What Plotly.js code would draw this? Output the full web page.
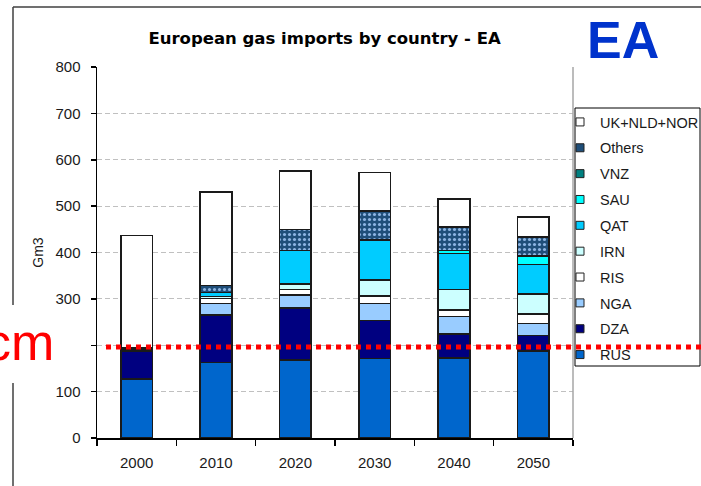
<!DOCTYPE html>
<html>
<head>
<meta charset="utf-8">
<script src="https://cdn.plot.ly/plotly-3.0.1.min.js"></script>
<style>
  html, body { margin: 0; padding: 0; background: #ffffff; }
  #chart { width: 701px; height: 486px; }
</style>
</head>
<body>
<div id="chart"></div>
<script>
// ---- Data (Gm3) ----
const categories = ['2000', '2010', '2020', '2030', '2040', '2050'];
const RUS    = [127, 163, 168, 171, 173, 188];
const DZA    = [60, 102, 112, 82, 51, 33];
const NGA    = [3, 25, 28, 37, 38, 26];
const RIS    = [0, 11, 12, 16, 14, 20];
const IRN    = [0, 4, 12, 35, 44, 44];
const QAT    = [0, 9, 72, 86, 78, 63];
const SAU    = [0, 0, 0, 0, 6, 18];
const VNZ    = [0, 0, 0, 0, 0, 0];
const Others = [4, 15, 46, 62, 51, 41];
const UKNLDNOR = [243, 201, 126, 84, 60, 44];
const seriesNames = ['RUS', 'DZA', 'NGA', 'RIS', 'IRN', 'QAT', 'SAU', 'VNZ', 'Others', 'UK+NLD+NOR'];
const seriesValues = [RUS, DZA, NGA, RIS, IRN, QAT, SAU, VNZ, Others, UKNLDNOR];
const refLine = 196;
const yTickVals = [0, 100, 200, 300, 400, 500, 600, 700, 800];
const yTickText = ['0', '100', '', '300', '400', '500', '600', '700', '800'];

// ---- Styles ----
const colors = ['#0066CC', '#000080', '#99CCFF', '#FFFFFF', '#CCFFFF', '#00CCFF', '#00FFFF', '#008080', '#1F4E79', '#FFFFFF'];
const FONT = 'Arial, "Liberation Sans", sans-serif';

// geometry helpers (pixel -> paper)
const W = 701, H = 486, L = 97, R = 128, T = 67, B = 48;
const PW = W - L - R, PH = H - T - B;
const px = x => (x - L) / PW;
const py = y => (T + PH - y) / PH;

const traces = [];
seriesNames.forEach((name, i) => {
  const marker = { color: colors[i], line: { color: '#1a1a1a', width: 1.5 } };
  if (name === 'Others') {
    marker.pattern = { shape: '.', fgcolor: '#8DB4E2', bgcolor: '#1F4E79', size: 5, solidity: 0.3, fillmode: 'replace' };
  }
  traces.push({
    type: 'bar', x: categories, y: seriesValues[i], name: name,
    showlegend: false, marker: marker, hoverinfo: 'name+y'
  });
});
// legend entries (small square symbols), top entry = last series
for (let i = seriesNames.length - 1; i >= 0; i--) {
  const name = seriesNames[i];
  traces.push({
    type: 'scatter', mode: 'markers', x: [null], y: [null], name: name,
    legendgroup: 'g' + i, showlegend: true, hoverinfo: 'skip',
    marker: { symbol: 'square', size: 8, color: colors[i], line: { color: '#222', width: 1 } }
  });
}

const layout = {
  width: W, height: H,
  margin: { l: L, r: R, t: T, b: B, pad: 0, autoexpand: false },
  paper_bgcolor: '#ffffff', plot_bgcolor: '#ffffff',
  font: { family: FONT, color: '#1a1a1a', size: 15 },
  barmode: 'stack', bargap: 0.6,
  showlegend: true,
  title: {
    text: 'European gas imports by country - EA',
    font: { family: '"DejaVu Sans", sans-serif', size: 16.5, weight: 'bold', color: '#000' },
    xref: 'container', yref: 'container', x: 324.6 / W, y: 1 - 38 / H,
    xanchor: 'center', yanchor: 'middle'
  },
  xaxis: {
    type: 'category', showline: true, linecolor: '#000', linewidth: 2,
    ticks: 'outside', tickson: 'boundaries', ticklen: 6, tickwidth: 1.5, tickcolor: '#000',
    showgrid: false, zeroline: false, tickfont: { size: 15, color: '#1a1a1a' },
    ticklabelstandoff: 10
  },
  yaxis: {
    range: [0, 800], tickvals: yTickVals, ticktext: yTickText,
    showline: true, linecolor: '#000', linewidth: 1.5,
    ticks: 'outside', ticklen: 5, tickwidth: 1.5, tickcolor: '#000',
    showgrid: true, gridcolor: '#c0c0c0', gridwidth: 1.2, griddash: '5px,3px',
    zeroline: false, tickfont: { size: 15, color: '#1a1a1a' },
    ticklabelstandoff: 7,
    title: { text: 'Gm3', font: { size: 14, color: '#1a1a1a' }, standoff: 8 }
  },
  legend: {
    xref: 'container', yref: 'container',
    x: 560 / W, y: 1 - 106 / H, xanchor: 'left', yanchor: 'top',
    bgcolor: 'rgba(0,0,0,0)', borderwidth: 0, maxheight: 400,
    font: { family: FONT, size: 14.5, color: '#1a1a1a' },
    traceorder: 'grouped', tracegroupgap: 4
  },
  annotations: [
    { text: 'EA', xref: 'paper', yref: 'paper', x: px(622.5), y: py(40),
      xanchor: 'center', yanchor: 'middle', showarrow: false,
      font: { family: FONT, size: 52, weight: 'bold', color: '#0033CC' } },
    { text: 'cm', xref: 'paper', yref: 'paper', x: px(56), y: py(342),
      xanchor: 'right', yanchor: 'middle', showarrow: false,
      font: { family: FONT, size: 52, color: '#FF0000' } }
  ],
  shapes: [
    // outer frame
    { type: 'line', xref: 'paper', yref: 'paper', x0: px(13), x1: px(701), y0: py(7), y1: py(7),
      line: { color: '#404040', width: 1.3 } },
    { type: 'line', xref: 'paper', yref: 'paper', x0: px(13), x1: px(13), y0: py(7), y1: py(305),
      line: { color: '#404040', width: 1.5 } },
    { type: 'line', xref: 'paper', yref: 'paper', x0: px(13), x1: px(13), y0: py(383), y1: py(486),
      line: { color: '#404040', width: 1.5 } },
    // plot area right border
    { type: 'line', xref: 'paper', yref: 'paper', x0: 1, x1: 1, y0: 0, y1: 1,
      line: { color: '#a6a6a6', width: 1.5 } },
    // legend box
    { type: 'rect', xref: 'paper', yref: 'paper', x0: px(575), x1: px(700), y0: py(108), y1: py(366),
      line: { color: '#000', width: 1 }, fillcolor: 'rgba(0,0,0,0)' },
    // red dotted reference line
    { type: 'line', xref: 'paper', yref: 'y', x0: px(106), x1: px(701), y0: refLine, y1: refLine,
      layer: 'above', line: { color: '#FF0000', width: 5, dash: '5px,5px' } }
  ]
};

Plotly.newPlot('chart', traces, layout, { displayModeBar: false, staticPlot: true });
</script>
</body>
</html>
